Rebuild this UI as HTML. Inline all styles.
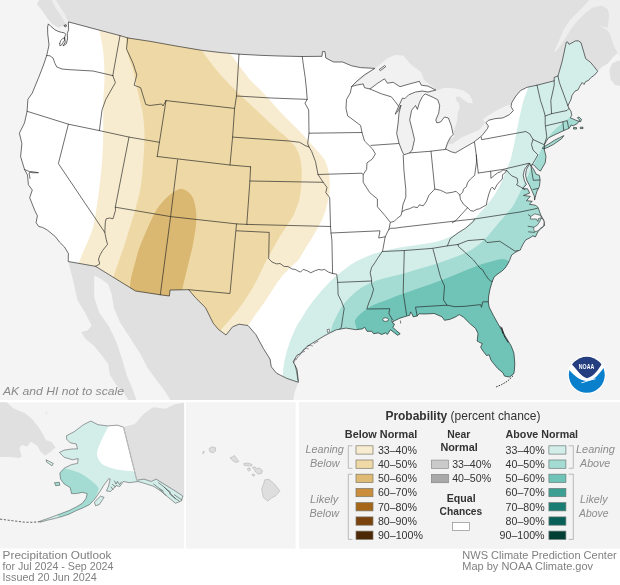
<!DOCTYPE html>
<html lang="en"><head><meta charset="utf-8"><title>Precipitation Outlook for Jul 2024 - Sep 2024</title>
<style>
html,body{margin:0;padding:0;background:#fff;}
body{width:620px;height:585px;overflow:hidden;font-family:"Liberation Sans",sans-serif;}
svg text{font-family:"Liberation Sans",sans-serif;}
svg{will-change:transform;}
</style></head><body>
<svg width="620" height="585" viewBox="0 0 620 585" style="display:block">
<defs>
<clipPath id="mapclip"><rect x="0" y="0" width="620" height="400"/></clipPath>
<path id="us" d="M48.4 23.9 L51 26.5 L54.8 29.7 L58 31.3 L61.3 32.3 L64.5 32.9 L65.6 34.5 L64.3 38 L65.3 42 L63 46 L66.3 43.8 L67.6 39 L67.3 33.5 L68.6 29.7 L68.4 21.9 L95 29 L120 35.6 L128 38 L150 41.3 L176 46 L201.6 50.3 L220 52.5 L239 54.2 L260 55.3 L279 56 L302 56.5 L322 56.3 L322.5 51.6 L325 51.6 L325.8 58 L333.5 62 L342.6 62 L351.6 65.8 L360.6 67.6 L374.8 68.4 L364.5 74.8 L357 81 L351.6 86.5 L357 85 L363.2 83.9 L364.5 87.7 L370 89 L377.7 83.2 L384.5 78.8 L387.4 83.2 L393.2 82.3 L400 86.7 L408.7 84.2 L419.4 81.3 L421.3 85.2 L428 86.1 L435.8 90 L428 92 L422.3 91 L415.5 92 L408.7 94.8 L404.8 98.7 L402.5 98 L399 105.5 L395.2 114.2 L397.5 112 L401 105 L399 113.2 L398 123.9 L396.7 133.5 L399 143.2 L402 151 L403.9 154.8 L409.7 152.9 L412.2 150 L414.5 139.4 L412.2 129.7 L409.7 120 L411.6 110.3 L415.5 105.5 L417.4 109.4 L419.4 102.6 L422.3 96.8 L425.2 93.9 L432 96.8 L437.7 99.7 L439.7 105.5 L438.7 113.2 L435.8 120 L436.8 122.9 L440.6 122 L444.5 117 L448.4 118 L451.3 125.8 L453.2 134.5 L450.3 137.4 L447.4 143.2 L445.5 149 L451.3 151.8 L455.3 152.9 L464.2 147.7 L473.9 142.1 L482 135.6 L487.6 128.4 L488.4 126 L486 122.7 L488.4 120.3 L494.8 118.7 L502.9 117.9 L509.4 114.7 L513.4 110.6 L511 106.6 L511.8 102.6 L515.8 96.1 L520.6 90.5 L527 87.3 L537 85.2 L554.2 80.8 L554.2 77.4 L558 76 L562 62 L566.3 42.3 L567.5 41.8 L569 44.4 L572 42.8 L575.6 40.8 L578.5 40.9 L581 42.6 L585.7 58.7 L590.5 62.3 L594 66.5 L597.7 71.3 L594.7 74.9 L590.5 77.9 L588.7 80.3 L585.7 81.5 L584 84.5 L582.2 82.5 L579.8 86.3 L578 89.9 L575 91.1 L572 95.3 L570.8 100 L569.7 102 L567.9 105.8 L569 108.4 L571 111.3 L571.8 115.3 L570.2 117.7 L575.8 120.2 L580.6 121.8 L581.5 119.4 L579 117 L577.4 117.7 L579.8 120.2 L577.4 123.4 L573.4 125.8 L571 125 L569.4 128.2 L563.7 130.6 L554.8 134.7 L548.4 137.9 L544.4 144.4 L544.4 150 L546 156.5 L545.2 162.9 L542.2 168 L540.5 171 L538.7 170 L535 166.5 L533.3 164.6 L530.8 165.3 L534 170 L536 174.1 L539.4 175.5 L540.1 180.3 L539.4 186.4 L536.7 191.9 L535.3 197 L534.6 200.1 L534.3 196 L532.3 191.6 L530.5 187.5 L529 184.4 L527 181 L525.5 175.2 L526.4 169.4 L528.3 166 L529.9 163.5 L529 163.5 L527 166 L524.5 169.4 L523.2 175.2 L524.5 181 L526.4 184.4 L522.6 188.7 L527.4 188.7 L529.7 193 L523.5 195.5 L530.3 196.4 L526.4 200.7 L532.3 201.3 L529.4 204.2 L535.2 205.2 L537.8 207 L539.2 210.5 L540 213 L541 215.4 L543.9 220.6 L544.5 225.5 L541.5 228.2 L540.5 228.7 L537.9 231.8 L535.4 236.9 L532.8 235.9 L529.7 237.9 L525.6 240 L523.1 244.1 L521 248.2 L520.3 250.1 L518 250.8 L514.5 253 L511.6 255 L509.7 260.2 L507.7 264 L505.2 267.9 L501.9 271.1 L498.1 273.7 L494.2 276.9 L492.3 281.3 L490 289 L488.7 296 L488.3 301.8 L489.1 307 L493.4 315.5 L497.7 323.2 L501.1 329.1 L506.2 337.7 L511.3 346.2 L513.9 353 L514.8 363.3 L514.4 370.1 L513.9 373.5 L509.6 377 L504.5 376.1 L502.8 372.7 L497.7 368.4 L493.4 363.3 L490.9 359.9 L489.1 354.8 L486.6 355.6 L483.2 351.3 L480.6 347.1 L482.3 343.7 L478.9 342 L477.2 341.1 L478 333.4 L475.5 328.3 L470.4 324 L463.5 317.2 L459.3 314.6 L455 317.2 L449.7 319.4 L444.5 320.3 L442 316.8 L434.2 313.5 L425 314 L419 313.8 L417.1 316 L413.1 316.8 L411.8 313.5 L410.6 311.9 L409.8 315.2 L404.2 316.8 L399.4 318.4 L394.5 320.8 L392.1 322.4 L394.5 324 L392.9 327.3 L396.1 330.5 L400.2 333.7 L397.7 335.3 L394.5 332.9 L390.5 329.7 L387.3 334.5 L385.6 332.9 L381.6 334.5 L378.4 332.9 L373.5 333.7 L371.9 331.3 L367.1 331.3 L364.7 327.3 L362.3 328.9 L355.8 329.7 L346.1 328.1 L339.7 329.2 L336.5 329.7 L330 332.9 L324 336 L318 339.7 L307.7 346 L304.8 348.7 L300 353.9 L297 355.2 L293.2 361.6 L297 369.4 L298.4 382.3 L286.8 378.4 L276.5 373.2 L271.3 366.8 L270 359 L263.5 348.7 L255.8 334.5 L248 325.5 L239 324.2 L232.6 326.8 L226 335 L218.4 329.4 L213.2 323.2 L210.6 318 L205.5 307.7 L195.2 297.4 L188.7 289.7 L170 290 L169.4 296 L160.3 294.8 L135.5 291 L95.5 266.3 L68.2 261.5 L68.4 253.5 L64.5 247 L59.4 242 L55.5 236.8 L47.7 230.3 L42.6 227.4 L38.7 226.5 L36.1 222.6 L37.4 215.8 L34.8 210.6 L29.7 197.7 L32.3 190 L28.4 184.8 L27.5 175 L24.5 169.4 L20.6 156.5 L21.9 143.5 L19.4 133.2 L24.5 122.9 L27.1 111.3 L27.9 99.4 L32.3 93 L38.7 77.4 L43.5 65 L46.7 55.5 L47.5 52 L49 45 L47.7 33.5 L47.6 27ZM542.7 147.4 L548.4 144.2 L554.8 140.1 L559.7 137.7 L563.9 135.6 L561.5 138.8 L558 141.2 L553.2 144.6 L546.8 147.8 L542.9 149ZM573.5 127.6 L576.5 127.6 L576.5 129 L573.5 129ZM580.3 127.2 L583 127.2 L583 128.6 L580.3 128.6ZM379.2 69.6 L384.6 65.6 L385.8 66.6 L380.4 70.6Z"/>
<clipPath id="usclip"><use href="#us"/></clipPath>
</defs>
<rect width="620" height="585" fill="#ffffff"/>
<g clip-path="url(#mapclip)">
<rect width="620" height="401" fill="#f4f4f4"/>
<path d="M39.4 0 L36.8 3.9 L41.9 10.3 L47.1 18.1 L52.3 23.9 L58.7 27.7 L63.9 25.2 L66 26.5 L69 22 L69 80 L300 100 L450 170 L500 140 L560 100 L590 75 L597.7 71.3 L601.9 67.1 L607.9 63.5 L612.7 57.5 L616.3 54 L620 51.5 L620 0Z" fill="#e0e0e0"/>
<path d="M609.5 70 L612 63.5 L617 61 L620 60.5 L620 86 L615 85 L610.5 79Z" fill="#e0e0e0"/>
<path d="M554.6 50.8 L559.2 40 L563.8 29.2 L570 20 L579.2 10.8 L585.4 4.6 L589.2 0 L620 0 L620 57 L613.8 46.2 L610 33.8 L607 30 L598.5 25.4 L607.7 27.7 L609.2 15.4 L607.7 9.2 L601.5 5.4 L592.3 7.7 L584.6 13.8 L576.9 21.5 L570.8 29.2 L566.2 36.9 L560 46.2 L555.4 52.3Z" fill="#eeeeee"/>
<path d="M620 57 L620 58 L619 57.5Z" fill="#f4f4f4"/>
<path d="M68.2 261.5 L95.5 266.3 L135.5 291 L160.3 294.8 L169.4 296 L170 290 L188.7 289.7 L195.2 297.4 L205.5 307.7 L210.6 318 L213.2 323.2 L218.4 329.4 L226 335 L232.6 326.8 L239 324.2 L248 325.5 L255.8 334.5 L263.5 348.7 L270 359 L271.3 366.8 L276.5 373.2 L286.8 378.4 L298.4 382.3 L294.5 392.6 L293.2 401 L171 401 L164.8 391 L156.1 379.4 L147.4 367.7 L141.6 356.1 L130.5 338.5 L119.9 322.3 L113.9 307.9 L111.5 293.5 L107.9 284 L101 279 L94.2 275.5 L94.2 297.4 L99.4 313 L108.4 325.5 L116 341 L121.3 356.5 L126.5 374.5 L133 390 L136.8 401 L129 401 L123.9 392.6 L116 384.8 L109.7 374.5 L108.4 364.2 L100.6 353.9 L94.2 346 L85.2 338.4 L81.3 332 L87.7 330.6 L91.6 325.5 L85.2 313 L77.4 300 L73.5 282Z" fill="#e0e0e0"/>
<path d="M51.5 0 L55.5 7.7 L60.8 15.5 L64.8 21.9 L66.8 25.8 L68.4 22 L64.8 14 L60 7 L56 0Z" fill="#eeeeee"/>
<path d="M374.8 68.4 L387.7 58 L395 55 L403.2 55.5 L411 64.5 L421.3 72.3 L423.9 80 L434.2 87.7 L436 90.5 L400 92 L370 92 L351 87Z" fill="#f1f1f1"/>
<path d="M394 92 L427 92 L427 158 L394 158Z" fill="#f1f1f1"/>
<path d="M425 93.5 L436.4 90.5 L444.6 87.8 L455.6 88.5 L463.8 90.5 L469.2 94.6 L472 99.4 L472.6 103.5 L467.9 102.8 L463.8 100.1 L459.7 96.7 L456.2 96.7 L455.6 99.4 L459 103.5 L459.7 108.3 L457.6 113.8 L456.9 122 L454.9 127.4 L453.5 131.5 L454.5 137 L448 139 L430 125Z" fill="#f1f1f1"/>
<path d="M447.7 144.5 L452.8 143.8 L461 137.7 L470.6 133.6 L478.8 130.2 L484.3 124 L485 120.6 L486 122.7 L490 126 L487.6 130 L482 137 L473.9 144 L464.2 150 L455.3 155 L444.8 152Z" fill="#f1f1f1"/>
<path d="M482.7 119.5 L488.4 115.5 L496.5 110.6 L504.5 106.6 L511 104.2 L514 107 L514 111 L509.4 116 L502.9 119 L494.8 120 L488.4 121.5 L486 122.7Z" fill="#f1f1f1"/>
<use href="#us" fill="#ffffff"/>
<g clip-path="url(#usclip)">
<path d="M96 10 C87.6 13.4 98.2 23.6 99.4 30.5 C100.6 37.4 102.4 43.8 103.2 51.6 C104 59.4 104.5 68.8 104.5 77.4 C104.5 86 103.4 93.5 103.2 103.2 C103 112.9 103.4 126.1 103.2 135.8 C103 145.5 102.6 153 102 161.6 C101.4 170.2 100.3 179.7 99.4 187.4 C98.5 195.1 97.7 200.9 96.5 208 C95.3 215.1 95 221.6 92.3 230 C89.6 238.4 83.4 250.4 80.5 258.7 C77.6 267 68.4 271.4 75 280 C81.6 288.6 99.2 300 120 310 C140.8 320 180.3 335 200 340 C219.7 345 230 342.4 238 340 C246 337.6 245.5 329.5 248 325.8 C250.5 322.1 250.2 322.3 253.2 318 C256.2 313.7 261.3 306.9 266 300 C270.7 293.1 276.2 283.5 281.6 276.8 C287 270.1 294.2 264.6 298.1 260 C302 255.4 302.4 253.1 305 249 C307.6 244.9 310.7 240.1 313.5 235.2 C316.3 230.3 319.7 224.9 322 219.8 C324.3 214.7 325.9 209.5 327.2 204.4 C328.5 199.3 329.4 194.1 329.7 189 C330 183.9 329.8 178.5 328.9 173.7 C328 168.9 327.4 164.7 324.6 160 C321.8 155.3 316.4 150.3 312.3 145.6 C308.2 140.8 304.8 136.8 299.8 131.5 C294.8 126.2 288 119.9 282.1 113.7 C276.2 107.5 269.7 99.8 264.4 94.2 C259.1 88.6 253.3 83.4 250.2 80 C247 76.6 248.9 78.4 245.5 74 C242.1 69.6 235.1 59.9 230 53.4 C224.9 46.9 228.3 42.2 215 35 C201.7 27.8 169.8 14.2 150 10 C130.2 5.8 104.4 6.6 96 10Z" fill="#f8ecd0"/>
<path d="M122.5 20 C118.5 23.8 124.9 31.8 125.8 37.5 C126.7 43.2 126.7 48.9 127.9 54.2 C129.1 59.6 131.6 64.5 133 69.6 C134.4 74.7 135.3 79.9 136.4 85 C137.5 90.1 138.7 95.3 139.8 100.3 C140.9 105.3 142.2 109.1 143 115 C143.8 120.9 144.5 128 144.5 135.8 C144.5 143.6 143.8 153 143.2 161.6 C142.5 170.2 142.1 178.8 140.6 187.4 C139.1 196 136.1 206.1 134.2 213.2 C132.3 220.3 130.7 224.6 129 230 C127.3 235.4 126.7 238.2 124.2 245.8 C121.7 253.4 116.4 267.3 114 275.5 C111.6 283.7 102.3 287.6 110 295 C117.7 302.4 143.3 311.7 160 320 C176.7 328.3 199.8 343.3 210 345 C220.2 346.7 216.4 335.8 221 330 C225.6 324.2 232.3 317.5 237.7 310.3 C243.1 303.1 248.5 295.2 253.2 287 C257.9 278.8 261.7 269.5 266 261.3 C270.3 253.1 276 243.2 279 238 C282 232.8 282.3 233 284.2 230 C286.1 227 288.9 222.8 290.6 220 C292.3 217.2 293 216.9 294.5 213.2 C296 209.5 298.5 203.2 299.7 197.7 C300.9 192.2 301.3 185.4 301.6 180 C301.9 174.6 301.7 169.4 301.3 165.2 C300.9 160.9 300.1 157.8 299 154.5 C297.9 151.2 296.7 148.5 294.5 145.6 C292.3 142.7 289.2 140.1 285.7 136.8 C282.1 133.6 278.2 130.7 273.2 126.1 C268.2 121.5 261.4 114.9 255.5 109.3 C249.6 103.7 242.7 97.3 237.7 92.4 C232.7 87.5 229.2 84.2 225.3 80 C221.4 75.8 218.4 72.5 214.5 67.5 C210.6 62.5 205.7 56.5 201.6 50.3 C197.5 44 198.6 35.9 190 30 C181.4 24.1 161.2 16.7 150 15 C138.8 13.3 126.5 16.2 122.5 20Z" fill="#eed9a6"/>
<path d="M179.7 188.9 C176.5 189.7 172.2 192.7 168.4 196 C164.6 199.3 160.5 203.6 157 209 C153.5 214.4 150.3 222 147.4 228.4 C144.5 234.8 141.4 242.1 139.4 247.7 C137.4 253.3 136.6 257.3 135.3 262 C134 266.7 132.5 271.2 131.5 276 C130.5 280.8 130 286.2 129.5 291 C129 295.8 120.1 302.7 128.5 305 C136.9 307.3 171 307.8 180 305 C189 302.2 180.9 295.9 182.5 288.4 C184.1 280.9 187.7 266.8 189.3 260 C190.9 253.2 191.2 253 192.3 247.7 C193.4 242.4 194.9 233.3 195.6 228.4 C196.3 223.5 196.3 221.2 196.3 218 C196.3 214.8 196.4 212.3 195.8 209 C195.2 205.7 194.4 200.9 193 198 C191.6 195.1 189.7 193 187.5 191.5 C185.3 190 182.9 188.2 179.7 188.9Z" fill="#dbb872"/>
<path d="M282.5 385 C279.7 377.4 282.7 378.4 283 374.5 C283.3 370.6 283.2 366.8 284.3 361.6 C285.4 356.4 287.3 349.4 289.3 343.5 C291.3 337.6 294.6 330.4 296.5 326.5 C298.4 322.6 298.5 323.2 300.5 320 C302.5 316.8 305.8 311.2 308.7 307 C311.6 302.8 314.8 298.8 318.2 294.7 C321.6 290.6 326 285.7 329.2 282.4 C332.4 279.1 334.4 277.4 337.4 274.9 C340.4 272.4 343.6 269.8 347 267.4 C350.4 265 354.3 262.4 357.9 260.5 C361.5 258.6 365.1 257.1 368.8 255.7 C372.5 254.3 374.8 253.3 380 252 C385.2 250.7 393.6 248.8 400 247.6 C406.4 246.4 412.2 245.9 418.5 244.8 C424.8 243.7 432.3 242.7 438 241.2 C443.7 239.7 448.6 237.6 452.5 235.8 C456.4 234 459.2 232.1 461.5 230.6 C463.8 229.1 463.7 229.7 466.5 227 C469.3 224.3 474.8 218.5 478.5 214.5 C482.2 210.5 485.4 206.9 488.5 203 C491.6 199.1 494.6 194.9 497 190.9 C499.4 186.9 501.2 182.9 503 178.9 C504.8 174.9 506.2 170.5 507.5 167 C508.8 163.5 509.6 163 511 158 C512.4 153 514.2 143.7 515.6 137 C517 130.3 518 124.2 519.4 118 C520.8 111.8 522.3 105 523.7 100 C525.1 95 526.8 92.7 528 87.7 C529.2 82.7 529 79.6 531 70 C533 60.4 521.8 36.7 540 30 C558.2 23.3 623.3 -35 640 30 C656.7 95 696.7 355 640 420 C583.3 485 359.6 425.8 300 420 C240.4 414.2 285.3 392.6 282.5 385Z" fill="#d3ede9"/>
<path d="M329 345 C329.1 330.6 330 336.6 330.5 333.5 C331 330.4 331.3 328.8 332 326.5 C332.7 324.2 333.1 323.2 334.7 320 C336.3 316.8 339 310.8 341.5 307 C344 303.2 346.7 300.4 349.7 297.4 C352.7 294.4 356.1 291.5 359.3 289.2 C362.5 286.9 365.4 285.4 368.8 283.8 C372.2 282.2 374.8 281.1 380 279.5 C385.2 277.9 393.4 276.3 400 274.5 C406.6 272.7 412.9 270.6 419.4 268.7 C425.8 266.8 432.3 265 438.7 262.9 C445.1 260.8 452.2 258.5 458 256.1 C463.8 253.7 469 251.3 473.5 248.4 C478 245.5 481.3 242.6 485.2 238.7 C489.1 234.8 492.9 229.7 496.8 225.2 C500.7 220.7 505.5 215.1 508.4 211.6 C511.3 208.1 511.8 208 514.2 203.9 C516.6 199.8 520.4 191.4 522.6 187 C524.8 182.6 526.1 180.3 527.4 177.4 C528.7 174.5 529.4 171.8 530.6 169.4 C531.8 167 533.1 165.9 534.7 162.9 C536.3 159.9 538.3 155.4 540.3 151.6 C542.3 147.8 544.4 143.4 546.8 139.8 C549.2 136.2 551.8 132.8 554.8 129.8 C557.8 126.8 561.4 124.1 564.5 121.6 C567.6 119.1 570 117.4 573.4 115 C576.8 112.6 573.9 109.5 585 107 C596.1 104.5 630.8 47.8 640 100 C649.2 152.2 691.7 366.7 640 420 C588.3 473.3 381.8 432.5 330 420 C278.2 407.5 328.9 359.4 329 345Z" fill="#a4dcd3"/>
<path d="M360 345 C358.8 330.2 358.2 334.2 357.5 331 C356.8 327.8 356.2 327.4 355.8 325.6 C355.4 323.8 354.4 322 355.2 320 C356 318 358.6 315.7 360.6 313.8 C362.7 311.9 365.1 310 367.5 308.4 C369.9 306.8 372.1 305.6 375 304.3 C377.9 303 380.6 302.4 384.8 300.8 C389 299.2 394.2 296.9 400 294.8 C405.8 292.7 412.9 290.2 419.4 288 C425.8 285.8 432.3 283.7 438.7 281.3 C445.1 278.9 451.6 276.1 458 273.5 C464.4 270.9 471.6 267.9 477.4 265.8 C483.2 263.7 488.8 262.1 493 261 C497.2 259.9 500 259 502.6 259 C505.2 259 507 260.2 508.4 261 C509.8 261.8 509.1 261.2 511 263.5 C512.9 265.8 515.2 263.9 520 275 C524.8 286.1 536.7 305.8 540 330 C543.3 354.2 569.2 405 540 420 C510.8 435 395 432.5 365 420 C335 407.5 361.2 359.8 360 345Z" fill="#6fc3b7"/>
</g>
<path d="M46.7 55.5 L50 55.8 L53 58 L55 63.5 L56.8 67 L62 69 L69.7 69.7 L93 71 L112.8 75.6M120 35.6 L112.8 75.6M112.8 75.6 L115.4 82.6 L110 92 L105.8 99.4 L102 110 L99.4 130.6M27.1 111.3 L68.4 124.2 L99.4 130.6 L129 137.1 L159.4 142.3M127.7 38 L126.5 49 L133 63.2 L136.8 74.8 L134.2 85.2 L140.6 87.7 L145.8 104.5 L150 105.5 L161.6 104 L163 106 L166 100.6M166 100.6 L157.2 156.5M166 100.6 L234.6 108.4M239 54.2 L236.5 96 L234.6 108.4 L232.6 137.1 L230 165M236.5 96 L271.3 98 L307.2 99.4M157.2 156.5 L230 165 L250.6 166.8M232.6 137.1 L289.4 141 L299.7 142.3 L305 145.5 L309 147M302.3 56.8 L303.5 66 L305.2 77.4 L306.5 90 L307.2 99.4 L305 103.2 L308.7 110 L309 133.2 L307.7 143.5 L309 147 L311.6 151.3 L315.5 161.6 L318 174.5 L323.2 182.3 L327 187.4 L325.8 192.6 L329.7 197.7 L330.5 226.5 L331 233 L331.9 240 L332.6 273.5M309 133.2 L362 132.5M351.6 86.5 L350.3 93 L346.5 99.4 L346 108.4 L347.7 116 L350.3 117.7 L360.6 125.5 L362 132.5 L364.5 141 L372.3 148.7 L375.4 153.9 L372.3 159 L367 162.9 L366.6 169.4 L363.2 174.5 L363.2 182.3 L369.7 192.6 L377.4 199 L377.4 206.8 L385.2 215.8 L390.3 222.3 L389 229 L387 233 L385.2 236.8 L382.6 251 L377.4 258.7 L375 262.6 L371.6 267.4 L370.2 272.8 L371.6 279.7 L371.6 283.8 L373.6 289.2 L371.6 296.1 L368.8 302.9 L366.8 309 L389.7 308.7 L388.9 313.5 L392.1 319.2 L392.6 321.5M370 89 L381.6 93.9 L391.3 96.8 L395.2 101.6 L398.5 106M371 145.4 L398.6 143.5M318 174.5 L362 173.2 L363.2 174.5M403.2 155.2 L403.9 170 L405.8 189.4 L405.8 197.1 L402.9 204.8 L402 211.6 L401 215.5 L397.1 218.4 L394.2 221.3 L390.7 222.3M409.7 152.9 L430 151.3 L445.5 149.4M431 151.3 L434.8 189M402 211.6 L405.8 209.7 L409.7 208.7 L413.5 206.8 L417.4 207.7 L419.4 204.8 L423.2 205.8 L426.1 201.9 L429 195.2 L434.8 189 L440.6 190.3 L446.5 193.2 L452.3 192.3 L456.1 191.3 L459.8 195.1 L460.4 194.5 L462.8 192.1 L463.4 189.1 L466.4 186.7 L467.6 182.5 L470.6 178.9 L474.7 175.3 L475.3 170.6 L476.5 162.2 L476.3 155M474.5 142.3 L476.3 155 L477.1 162.2 L478.3 173M481.3 137.4 L481.7 139.7 L500 136.3 L525.8 131.5 L529.8 133.9 L533 139.5 L531.5 144.4 L533 150 L537.9 154.8 L534.7 160.5 L532.3 164.5M533 139.5 L543.5 144.4M478.3 173 L490.9 171.2 L502.9 169.4 L529.2 163.2 L530.8 165.3M490.7 171.3 L490.9 178.3 L494.5 175.3 L497.5 173 L500.5 171.8 L502.9 170 L506.7 170.3 L508.8 172.9 L511.8 175.9 L514.8 177.1 L517.2 178.3 L517.8 182.5 L516.6 184.9 L520.2 186.7 L525 189.7M506.7 170.3 L504.7 173.2 L502.6 174.7 L502.3 178.9 L499.5 181.9 L496.9 184.9 L494.5 189.7 L492.3 187.1 L490.9 188.5 L488.9 193.9 L487.1 200.5 L486.4 205 L483.1 206.7 L479.5 208.8 L476.5 209.4 L473.5 211.2 L470.6 210.6 L467.6 207.7M459.8 195.1 L460.4 199.3 L463.4 204.1 L467.6 207.7 L462.2 213.6 L456.2 220.2 L452.3 222.8M389 229.5 L390.7 228.3 L395 228.2 L402.9 227.1 L453.2 221.3 L474.5 219 L520 212 L537.2 208.4M331 233 L380 230.8 L378.7 238 L385.2 236.8M246.8 224.4 L330.5 226.5M250.6 166.8 L249.9 181 L246.8 224.4M249.9 181 L323.2 182.3M177.6 159.8 L170.6 216.6 L160.3 294.8M115.3 207.2 L170.6 216.6 L236.5 223.9 L246.8 224.4M129 137.1 L115.3 207.2 L115.5 210.3 L113 218.8 L109.6 218 L106.2 218.8 L105.3 222.2 L104.8 232.5 L106.2 239.3 L107.5 244.4 L102.7 250.4 L100.2 254.7 L98.5 259 L99.7 264.1 L95.5 266.3M68.4 124.2 L58.4 163.6 L104.8 232.5M188.7 289.7 L230 293.5 L236.5 223.9M236.5 230.8 L269.2 232.4 L268.7 258.7 L272 262 L276.5 263.9 L280 263.5 L284.2 266.5 L288 266.5 L292 269 L295 269.4 L297.7 270.8 L300.5 272.1 L303.2 269.4 L307.3 270.8 L310.7 272.8 L314.8 270.8 L318.9 269.4 L321.7 270.1 L324.4 269.4 L328.5 272.1 L332.6 273.5 L336.7 274.2 L337.7 282.4 L338.1 294.7 L341.5 301.5 L344.2 308.4 L342.9 316.6 L341.3 327.3 L339.7 329.2M337.7 282.4 L371.6 281M382.6 251.5 L404.5 250.5 L432 248.4 L447.4 245.9 L458 244.5M404.3 250.7 L403.2 292.3 L406.6 315.2M432.9 248.8 L440.6 277.4 L444.5 286 L443.5 300 L447 305.2M417.1 315.8 L415.5 307.1 L447 305.2 L455 306.7 L465 306.3 L480.6 304.6 L481.5 307.3 L482.8 301.8 L488.3 301.8M447.4 245.9 L450.3 238.7 L458 232.9 L465.8 228 L473.5 221.3 L474.5 219M458 244.5 L467.7 240.6 L484.2 239.3 L487 242.6 L499.7 241.2 L515 251.2 L518 250.6M458 244.5 L458.5 246.5 L463.9 251.3 L473.5 260 L480 268.2 L482.6 269.8 L485.2 274.4 L488.4 278.9 L491 281.5 L492.3 281.3M537 85.2 L540.5 100.6 L543.5 109.7 L545.2 116 L545.2 124.2 L546.8 137 L544.4 144.4M554.2 80.8 L554.2 85.2 L550.8 100.6 L551.6 113.7M558 76 L559.4 82.6 L567.9 105.8M545.2 116 L551.6 113.7 L567 110.5 L569 108.4M546 125.8 L562.9 121.8 L567.2 120.6 L568.5 127.4M562.9 121.8 L563.7 130.6M530.8 165.3 L533.3 180.3 L539.8 180M533 189.5 L537.8 188.5M64.2 25.5 L66 24.6 L66.6 26.2 L65 27 L64.2 25.5M59.7 43.6 L60.8 40.5 L62.6 38.6 L65 37.6 L64.6 40.2 L63 42.6 L61.6 45 L59.9 45.8 L59.7 43.6M24.5 169.4 L28 171 L32 172.8 L38.5 172.7 L31 171.5 L29 173 L30 178.5" fill="none" stroke="#222222" stroke-width="0.66" stroke-linejoin="round" stroke-linecap="round"/>
<use href="#us" fill="none" stroke="#222222" stroke-width="0.66" stroke-linejoin="round"/>
<path d="M327.6 332.6 L327.2 329.6 L329.2 329 L329.8 331.6Z" fill="#f6f6f6" stroke="#222" stroke-width="0.5"/><path d="M298 380.5 L296.6 372 L295.2 365.5 M293.6 362.8 L295.5 358.8 M296 359.8 L298.5 356 M299.5 355.5 L302 352.2 L304.5 351.5 M303 350.2 L306.2 348.2 L308.2 348.8 M307.5 346.2 L310.5 345.3 L312.5 346 M314 343.6 L318 341.3" fill="none" stroke="#222" stroke-width="0.5" stroke-linecap="round"/><path d="M530.8 216.4 L534.9 213.8 L540.5 215.4 L541.5 217.9 L538.5 218.5 L537.9 221.5 L536.4 219 L532.8 219 L530.3 219Z M533.8 227.2 L536.9 225.6 L539.5 222.1 L541 218.5 L543.1 219 L544.1 222.1 L543.7 226 L540.5 228.3 L537.9 230.8 L534.9 231.8 L533.8 229.7Z" fill="#f6f6f6" stroke="#222" stroke-width="0.55" stroke-linejoin="round"/><path d="M527.7 226.2 L533.8 227.2 M528.2 231.8 L534.9 232.4 M528 214.5 L530.8 216.4" fill="none" stroke="#222" stroke-width="0.6"/><path d="M513 375.8 L507.7 381 L501.3 384.8 L496 387" fill="none" stroke="#222" stroke-width="0.9" stroke-dasharray="1.6 1.1"/><path d="M500.6 326.5 L503.2 331.5 L504.2 336 L508.2 342.5 M501.8 327.5 L502.6 333.5" fill="none" stroke="#222" stroke-width="0.9"/><ellipse cx="385.6" cy="319.6" rx="2.8" ry="1.8" fill="#ffffff" stroke="#222" stroke-width="0.6"/><ellipse cx="392.3" cy="320.9" rx="1" ry="0.8" fill="#ffffff" stroke="#222" stroke-width="0.5"/><path d="M400.3 320.5 L400.8 323.5" stroke="#222" stroke-width="0.6" fill="none"/>
</g>
<g>
<circle cx="586.8" cy="374.8" r="19.2" fill="#ffffff"/>
<clipPath id="lg"><circle cx="586.8" cy="374.8" r="18"/></clipPath>
<g clip-path="url(#lg)">
<path d="M566 350 L608 350 L608 360 L601.8 364 C598.5 369 594.5 376.5 586.9 378.3 C580.5 376.5 577 369.5 572 364.6 L566 360Z" fill="#243e80"/>
<path d="M566 369.2 L569.3 370.1 C574 375.5 580 381 587.2 381.1 C594 380.5 599 374.5 604 367.3 L608 366 L608 396 L566 396Z" fill="#0a7fcb"/>
<path d="M581.2 382.6 C586 381.2 591 379.6 595.4 378.3 L595.6 379.3 C591 380.3 586 381.9 581.6 383.3Z" fill="#ffffff"/>
</g>
<text x="586.5" y="368.9" font-size="6.6" font-weight="700" fill="#ffffff" text-anchor="middle" textLength="15.3" lengthAdjust="spacingAndGlyphs">NOAA</text>
</g>
<text x="3" y="394.6" font-size="11.2" font-style="italic" fill="#8a8a8a" textLength="121" lengthAdjust="spacingAndGlyphs">AK and HI not to scale</text>
<clipPath id="akc"><rect x="0" y="402.2" width="184.2" height="146.4"/></clipPath>
<g clip-path="url(#akc)">
<rect x="0" y="402" width="185" height="147" fill="#f4f4f4"/>
<path d="M0 402 L6.5 402 L12.9 407.9 L17.7 410.3 L24.2 412.7 L32.3 419.2 L38.7 427.3 L43.5 435.3 L46 440.2 L51.6 441.8 L55.6 447.4 L50 452.3 L45.2 455.5 L40.3 451.5 L37.9 446.6 L33.9 443.4 L30.6 441.8 L27.4 446.6 L21.8 445 L19.4 448.2 L21.8 456.3 L19.4 457.9 L9.7 457.1 L0 457.1Z" fill="#e0e0e0"/>
<path d="M123.5 427.1 L134.8 424 L144 413.4 L153.2 407.3 L165.5 408.8 L174.7 404.2 L184 402.7 L184.5 402 L184.5 497.5 L182.8 496.1 L175.5 491.2 L165.8 485.2 L156.1 479.1 L151.3 481.5 L144 479.1 L136.8 480.3Z" fill="#e0e0e0"/>
<path d="M45 413.5 L46.2 411.2 L47.8 413.8Z" fill="#e6e6e6"/>
<clipPath id="akland"><path d="M66.6 435.6 L73.9 431.9 L83.5 424.7 L90.8 421 L98 424.7 L107.7 425.9 L117.4 425.2 L123.5 427.1 L136.8 480.3 L144 479.1 L151.3 481.5 L156.1 479.1 L165.8 485.2 L175.5 491.2 L182.8 496.1 L181.5 500.9 L175.5 503.3 L168.2 497.3 L161 491.2 L153.7 486.4 L146.5 484 L138 481.5 L129.5 482.7 L123.5 481.5 L121.5 484 L119.8 486.5 L116 485.5 L113.5 488.5 L110.5 491.5 L106.5 491 L108.5 486 L110.2 479 L108.8 478.6 L104 485 L100 491.5 L97.5 495 L94.4 499.5 L89.6 504.5 L82.3 508.2 L76.3 510.6 L69 514.2 L61.8 516.6 L54.5 518.6 L47.3 520.2 L40 522.2 L40 521.2 L49.7 517.8 L59.4 514.2 L69 510.6 L76.3 506.9 L82.3 503.3 L86 498.5 L87.2 493.6 L82.3 492.4 L76.3 493.6 L71.5 493.6 L70.2 487.6 L64.2 484 L60.6 479.1 L59.8 473.1 L64.2 468.2 L71.5 464.6 L77.5 463.4 L78.2 458.6 L72.7 459.8 L64.2 457.3 L59.4 452.5 L64.2 450.1 L72.7 448.9 L77.5 448.9 L76.3 444 L70.2 442.8 L66.6 439.2ZM46 459.8 L53.3 463.4 L52.1 465.8 L46.8 462.2ZM54.5 482.7 L59.4 482.3 L59.8 485.2 L55.7 485.7ZM94.4 502.1 L100.5 496.1 L104.1 497.3 L99.3 504.5 L95.6 505.8Z"/></clipPath>
<path d="M66.6 435.6 L73.9 431.9 L83.5 424.7 L90.8 421 L98 424.7 L107.7 425.9 L117.4 425.2 L123.5 427.1 L136.8 480.3 L144 479.1 L151.3 481.5 L156.1 479.1 L165.8 485.2 L175.5 491.2 L182.8 496.1 L181.5 500.9 L175.5 503.3 L168.2 497.3 L161 491.2 L153.7 486.4 L146.5 484 L138 481.5 L129.5 482.7 L123.5 481.5 L121.5 484 L119.8 486.5 L116 485.5 L113.5 488.5 L110.5 491.5 L106.5 491 L108.5 486 L110.2 479 L108.8 478.6 L104 485 L100 491.5 L97.5 495 L94.4 499.5 L89.6 504.5 L82.3 508.2 L76.3 510.6 L69 514.2 L61.8 516.6 L54.5 518.6 L47.3 520.2 L40 522.2 L40 521.2 L49.7 517.8 L59.4 514.2 L69 510.6 L76.3 506.9 L82.3 503.3 L86 498.5 L87.2 493.6 L82.3 492.4 L76.3 493.6 L71.5 493.6 L70.2 487.6 L64.2 484 L60.6 479.1 L59.8 473.1 L64.2 468.2 L71.5 464.6 L77.5 463.4 L78.2 458.6 L72.7 459.8 L64.2 457.3 L59.4 452.5 L64.2 450.1 L72.7 448.9 L77.5 448.9 L76.3 444 L70.2 442.8 L66.6 439.2ZM46 459.8 L53.3 463.4 L52.1 465.8 L46.8 462.2ZM54.5 482.7 L59.4 482.3 L59.8 485.2 L55.7 485.7ZM94.4 502.1 L100.5 496.1 L104.1 497.3 L99.3 504.5 L95.6 505.8Z" fill="#d3ede9"/>
<g clip-path="url(#akland)">
<path d="M50 470 C52.3 465.6 58.8 468.7 62 468.6 C65.2 468.5 66.2 468.7 69 469.4 C71.8 470.1 75.5 471.1 78.7 472.6 C81.9 474.1 85.2 476.2 88.4 478.6 C91.6 481 96.5 484.9 98 487.2 C99.5 489.5 98.2 490.3 97.5 492.4 C96.8 494.5 95.2 497.7 94 500 C92.8 502.3 92.3 503.8 90 506 C87.7 508.2 83.3 511 80 513 C76.7 515 73.7 517.5 70 518 C66.3 518.5 61.7 519.8 58 516 C54.3 512.2 49.3 502.7 48 495 C46.7 487.3 47.7 474.4 50 470Z" fill="#a4dcd3"/>
<path d="M111.5 420 C114.1 418.8 118.8 411.3 123.5 420 C128.2 428.7 138.3 463.4 140 472 C141.7 480.6 137.4 471.8 133.8 471.4 C130.2 471 123 470.5 118.4 469.7 C113.8 468.9 109.5 467.7 106.4 466.3 C103.3 464.9 101.2 463.5 99.6 461.2 C98 458.9 96.7 456 97 452.6 C97.3 449.2 99.5 444.9 101.3 440.6 C103.1 436.3 106.4 430.4 108.1 427 C109.8 423.6 108.9 421.2 111.5 420Z" fill="#ffffff"/>
</g>
<path d="M66.6 435.6 L73.9 431.9 L83.5 424.7 L90.8 421 L98 424.7 L107.7 425.9 L117.4 425.2 L123.5 427.1 L136.8 480.3 L144 479.1 L151.3 481.5 L156.1 479.1 L165.8 485.2 L175.5 491.2 L182.8 496.1 L181.5 500.9 L175.5 503.3 L168.2 497.3 L161 491.2 L153.7 486.4 L146.5 484 L138 481.5 L129.5 482.7 L123.5 481.5 L121.5 484 L119.8 486.5 L116 485.5 L113.5 488.5 L110.5 491.5 L106.5 491 L108.5 486 L110.2 479 L108.8 478.6 L104 485 L100 491.5 L97.5 495 L94.4 499.5 L89.6 504.5 L82.3 508.2 L76.3 510.6 L69 514.2 L61.8 516.6 L54.5 518.6 L47.3 520.2 L40 522.2 L40 521.2 L49.7 517.8 L59.4 514.2 L69 510.6 L76.3 506.9 L82.3 503.3 L86 498.5 L87.2 493.6 L82.3 492.4 L76.3 493.6 L71.5 493.6 L70.2 487.6 L64.2 484 L60.6 479.1 L59.8 473.1 L64.2 468.2 L71.5 464.6 L77.5 463.4 L78.2 458.6 L72.7 459.8 L64.2 457.3 L59.4 452.5 L64.2 450.1 L72.7 448.9 L77.5 448.9 L76.3 444 L70.2 442.8 L66.6 439.2ZM46 459.8 L53.3 463.4 L52.1 465.8 L46.8 462.2ZM54.5 482.7 L59.4 482.3 L59.8 485.2 L55.7 485.7ZM94.4 502.1 L100.5 496.1 L104.1 497.3 L99.3 504.5 L95.6 505.8Z" fill="none" stroke="#2e2e2e" stroke-width="0.45" stroke-linejoin="round"/>
<path d="M40 521.7 L32 522.3 L24.5 522.2 L12.3 520.7 L0 519.1" fill="none" stroke="#555" stroke-width="0.9" stroke-dasharray="2.2 1.6"/>
<path d="M123.5 427.1 L136.8 480.3" stroke="#c4c4c4" stroke-width="0.7" fill="none"/>
<path d="M153.7 484 L158 487.5 L163.4 491.2 M158.6 482.7 L164 487 L170.7 492.4 M164.6 487.6 L170 493 L175.5 498.5 M169.4 493.6 L174 497.8 L179.1 500.9 M174.3 494.8 L181.5 499.7 M160 489.5 L166 495.5 M114.5 481 L116 484 L117.5 481.5 L119.5 484.5 L121.5 482 M112.5 484.5 L115.5 486.8 M111 487 L113 489.5" fill="none" stroke="#3a3a3a" stroke-width="0.55" stroke-linecap="round"/>
</g>
<rect x="186" y="402.2" width="109.6" height="146.4" fill="#f4f4f4"/>
<path d="M202.6 453.5 L203.8 451 L204.3 451.4 L203.2 453.8ZM209.2 448.5 L212 446.8 L215.4 447.8 L215.6 451 L213 452.8 L209.8 451.7ZM230 457.8 L232.2 457 L234.5 455.5 L236.5 458.5 L238.8 461.5 L236 462.5 L232.5 460.5ZM243.8 463.5 L248 463 L252.2 464.5 L251.5 466 L247.5 465.8 L244.2 465.2ZM247.8 468.3 L249.8 468 L250.6 470 L248.8 471.2 L247.5 470ZM252.3 467.5 L255 466.8 L256.5 468.5 L259.5 468 L262.5 470.5 L261.5 473.5 L258 474 L255.5 472 L254.5 469.8ZM252 474.5 L254 474 L254.8 475.3 L253 476.2ZM264.8 479.8 L269 479.3 L274.4 484 L279.9 490.8 L275.8 495.7 L271.5 498 L267.6 501.2 L263.5 497.6 L261.6 489.4 L263.5 484Z" fill="#dedede" stroke="#a8a8a8" stroke-width="0.5" stroke-linejoin="round"/>
<rect x="299" y="402.2" width="321" height="146.5" fill="#f3f3f3"/>
<text x="385.4" y="420.3" font-size="12.4" fill="#333333" textLength="155.1" lengthAdjust="spacingAndGlyphs"><tspan font-weight="700">Probability</tspan> (percent chance)</text>
<text x="344.8" y="438.3" font-size="10.6" font-weight="700" fill="#333333" textLength="72.5" lengthAdjust="spacingAndGlyphs">Below Normal</text>
<text x="505.6" y="438.3" font-size="10.6" font-weight="700" fill="#333333" textLength="72.5" lengthAdjust="spacingAndGlyphs">Above Normal</text>
<rect x="356" y="445.8" width="17" height="8.3" fill="#f8ecd0" stroke="#7d786c" stroke-width="0.7"/>
<text x="377.9" y="453.7" font-size="10.4" fill="#333333" textLength="39.0" lengthAdjust="spacingAndGlyphs">33–40%</text>
<text x="505.6" y="453.7" font-size="10.4" fill="#333333" textLength="39.0" lengthAdjust="spacingAndGlyphs">33–40%</text>
<rect x="548.9" y="445.8" width="17" height="8.3" fill="#d3ede9" stroke="#6c7c7a" stroke-width="0.7"/>
<rect x="356" y="460" width="17" height="8.3" fill="#efd9a6" stroke="#7d786c" stroke-width="0.7"/>
<text x="377.9" y="467.9" font-size="10.4" fill="#333333" textLength="39.0" lengthAdjust="spacingAndGlyphs">40–50%</text>
<text x="505.6" y="467.9" font-size="10.4" fill="#333333" textLength="39.0" lengthAdjust="spacingAndGlyphs">40–50%</text>
<rect x="548.9" y="460" width="17" height="8.3" fill="#a4dcd3" stroke="#6c7c7a" stroke-width="0.7"/>
<rect x="356" y="474.2" width="17" height="8.3" fill="#dfba74" stroke="#7d786c" stroke-width="0.7"/>
<text x="377.9" y="482.1" font-size="10.4" fill="#333333" textLength="39.0" lengthAdjust="spacingAndGlyphs">50–60%</text>
<text x="505.6" y="482.1" font-size="10.4" fill="#333333" textLength="39.0" lengthAdjust="spacingAndGlyphs">50–60%</text>
<rect x="548.9" y="474.2" width="17" height="8.3" fill="#6fc3b7" stroke="#6c7c7a" stroke-width="0.7"/>
<rect x="356" y="488.4" width="17" height="8.3" fill="#c98d3c" stroke="#7d786c" stroke-width="0.7"/>
<text x="377.9" y="496.4" font-size="10.4" fill="#333333" textLength="39.0" lengthAdjust="spacingAndGlyphs">60–70%</text>
<text x="505.6" y="496.4" font-size="10.4" fill="#333333" textLength="39.0" lengthAdjust="spacingAndGlyphs">60–70%</text>
<rect x="548.9" y="488.4" width="17" height="8.3" fill="#3d9e93" stroke="#6c7c7a" stroke-width="0.7"/>
<rect x="356" y="502.6" width="17" height="8.3" fill="#a5661a" stroke="#7d786c" stroke-width="0.7"/>
<text x="377.9" y="510.6" font-size="10.4" fill="#333333" textLength="39.0" lengthAdjust="spacingAndGlyphs">70–80%</text>
<text x="505.6" y="510.6" font-size="10.4" fill="#333333" textLength="39.0" lengthAdjust="spacingAndGlyphs">70–80%</text>
<rect x="548.9" y="502.6" width="17" height="8.3" fill="#1a7d74" stroke="#6c7c7a" stroke-width="0.7"/>
<rect x="356" y="516.9" width="17" height="8.3" fill="#7a420d" stroke="#7d786c" stroke-width="0.7"/>
<text x="377.9" y="524.8" font-size="10.4" fill="#333333" textLength="39.0" lengthAdjust="spacingAndGlyphs">80–90%</text>
<text x="505.6" y="524.8" font-size="10.4" fill="#333333" textLength="39.0" lengthAdjust="spacingAndGlyphs">80–90%</text>
<rect x="548.9" y="516.9" width="17" height="8.3" fill="#075f57" stroke="#6c7c7a" stroke-width="0.7"/>
<rect x="356" y="531.1" width="17" height="8.3" fill="#4c2806" stroke="#7d786c" stroke-width="0.7"/>
<text x="377.9" y="539" font-size="10.4" fill="#333333" textLength="45.0" lengthAdjust="spacingAndGlyphs">90–100%</text>
<text x="499.6" y="539" font-size="10.4" fill="#333333" textLength="45.0" lengthAdjust="spacingAndGlyphs">90–100%</text>
<rect x="548.9" y="531.1" width="17" height="8.3" fill="#013f34" stroke="#6c7c7a" stroke-width="0.7"/>
<path d="M352.4 445.8 H348.3 V468.3 H352.4 M352.4 474.2 H348.3 V539.4 H352.4" fill="none" stroke="#a9a9a9" stroke-width="0.8"/>
<path d="M568.7 445.8 H573.3 V468.3 H568.7 M568.7 474.2 H573.3 V539.4 H568.7" fill="none" stroke="#a9a9a9" stroke-width="0.8"/>
<text x="305.4" y="452.5" font-size="10.6" font-style="italic" fill="#8c8c8c" textLength="38.4" lengthAdjust="spacingAndGlyphs">Leaning</text>
<text x="310" y="466.7" font-size="10.6" font-style="italic" fill="#8c8c8c" textLength="29.5" lengthAdjust="spacingAndGlyphs">Below</text>
<text x="310" y="502.7" font-size="10.6" font-style="italic" fill="#8c8c8c" textLength="28.4" lengthAdjust="spacingAndGlyphs">Likely</text>
<text x="309.5" y="516.9" font-size="10.6" font-style="italic" fill="#8c8c8c" textLength="29.5" lengthAdjust="spacingAndGlyphs">Below</text>
<text x="576" y="452.5" font-size="10.6" font-style="italic" fill="#8c8c8c" textLength="38.9" lengthAdjust="spacingAndGlyphs">Leaning</text>
<text x="580" y="466.7" font-size="10.6" font-style="italic" fill="#8c8c8c" textLength="30.3" lengthAdjust="spacingAndGlyphs">Above</text>
<text x="580" y="502.7" font-size="10.6" font-style="italic" fill="#8c8c8c" textLength="27.6" lengthAdjust="spacingAndGlyphs">Likely</text>
<text x="579" y="516.9" font-size="10.6" font-style="italic" fill="#8c8c8c" textLength="29.4" lengthAdjust="spacingAndGlyphs">Above</text>
<text x="447.3" y="437.9" font-size="10.6" font-weight="700" fill="#333333" textLength="23.1" lengthAdjust="spacingAndGlyphs">Near</text>
<text x="440.4" y="451" font-size="10.6" font-weight="700" fill="#333333" textLength="37.4" lengthAdjust="spacingAndGlyphs">Normal</text>
<text x="446.7" y="501.7" font-size="10.6" font-weight="700" fill="#333333" textLength="28.9" lengthAdjust="spacingAndGlyphs">Equal</text>
<text x="439.6" y="514.6" font-size="10.6" font-weight="700" fill="#333333" textLength="42.6" lengthAdjust="spacingAndGlyphs">Chances</text>
<rect x="431.4" y="460.1" width="17" height="8.3" fill="#cacaca" stroke="#8e8e8e" stroke-width="0.7"/>
<rect x="431.4" y="474.4" width="17" height="8.3" fill="#a9a9a9" stroke="#858585" stroke-width="0.7"/>
<text x="452.2" y="468.2" font-size="10.4" fill="#333333" textLength="38.9" lengthAdjust="spacingAndGlyphs">33–40%</text>
<text x="452.2" y="482.4" font-size="10.4" fill="#333333" textLength="38.9" lengthAdjust="spacingAndGlyphs">40–50%</text>
<rect x="452.4" y="522.4" width="17" height="8.2" fill="#ffffff" stroke="#8e8e8e" stroke-width="0.7"/>
<text x="2.6" y="558.8" font-size="11.2" fill="#808080" textLength="108.9" lengthAdjust="spacingAndGlyphs">Precipitation Outlook</text>
<text x="2.6" y="569.7" font-size="11.2" fill="#808080" textLength="110.9" lengthAdjust="spacingAndGlyphs">for Jul 2024 - Sep 2024</text>
<text x="2.6" y="580.8" font-size="11.2" fill="#808080" textLength="94.2" lengthAdjust="spacingAndGlyphs">Issued 20 Jun 2024</text>
<text x="462.3" y="558.6" font-size="11.2" fill="#808080" textLength="154.4" lengthAdjust="spacingAndGlyphs">NWS Climate Prediction Center</text>
<text x="462.3" y="569.6" font-size="11.2" fill="#808080" textLength="130.8" lengthAdjust="spacingAndGlyphs">Map by NOAA Climate.gov</text>
</svg>
</body></html>
